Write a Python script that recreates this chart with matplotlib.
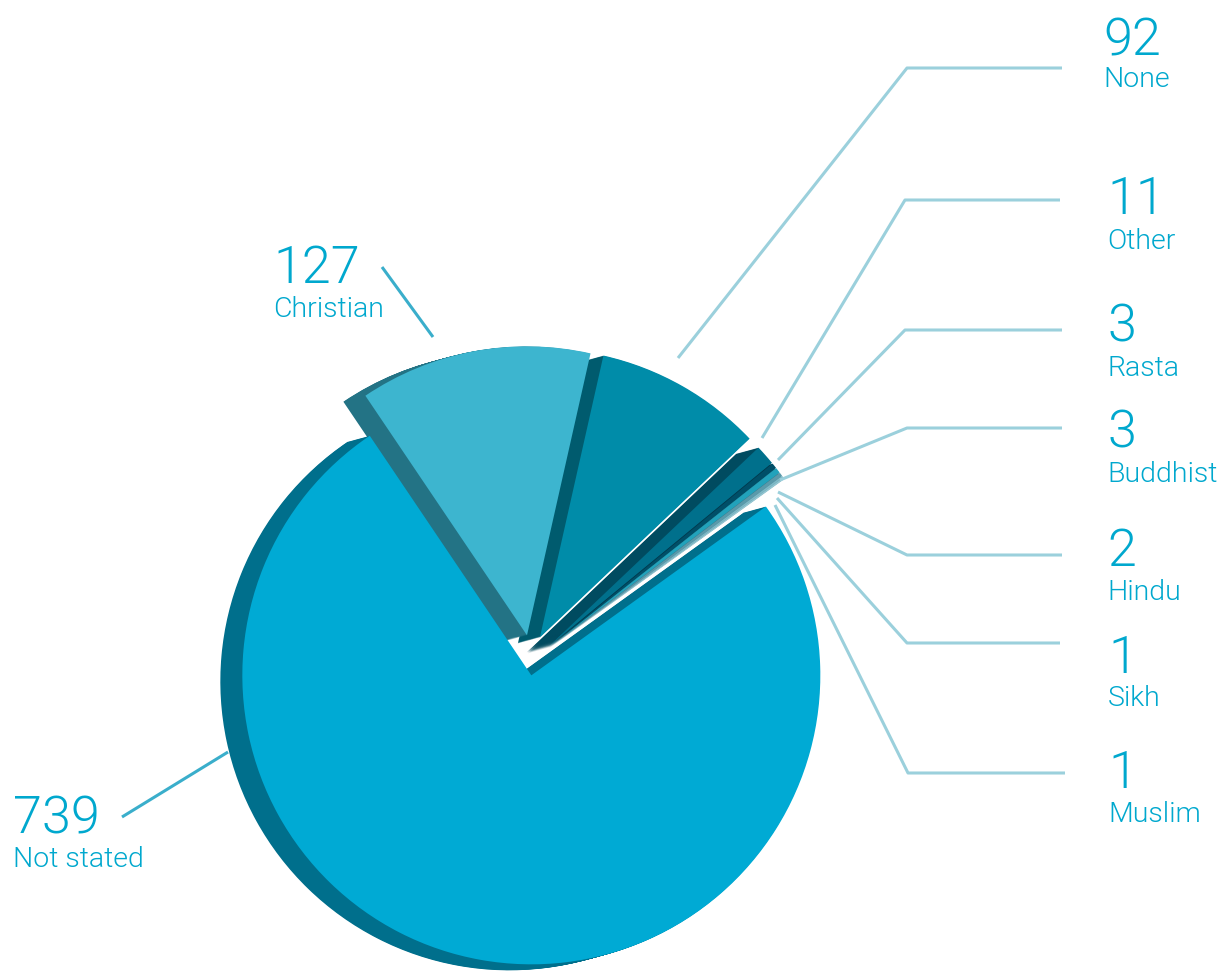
import matplotlib.pyplot as plt

# data
labels = ['Christian', 'None', 'Other', 'Rasta', 'Buddhist', 'Hindu', 'Sikh', 'Muslim', 'Not stated']
values = [127, 92, 11, 3, 3, 2, 1, 1, 739]

face_colors = ['#3db5cf', '#008ca9', '#00708c', '#004f68', '#22a2bb', '#5a9aab', '#7dbac8', '#93c6d2', '#00aad4']
side_colors = ['#237385', '#005b6e', '#004b60', '#003a4e', '#1a7487', '#3e7484', '#5b8f9c', '#6b9ea9', '#006f8c']

W, H = 1221, 973
cx, cy = 530.5, H - 654
R = 289
depth_x, depth_y = -22, -6   # side offset of the "3d" extrusion

# pie explode is an absolute offset here (data units = pixels)
explode = [19, 19, 19, 19, 19, 19, 19, 19, 23.7]
# small extra shifts so the slices sit like in the original
nudge = [(0, 0), (0, 0), (4, -5), (4, -5), (4, -5), (4, -5), (4, -5), (4, -5), (5, 2)]

# label layout (pixel coords, y from top): left x, number baseline, name baseline
text_pos = {
    'None':       (1103, 55, 87),
    'Other':      (1107, 214, 249),
    'Rasta':      (1107, 342, 376),
    'Buddhist':   (1107, 448, 482),
    'Hindu':      (1107, 566, 600),
    'Sikh':       (1108, 673, 706),
    'Muslim':     (1108, 788, 822),
    'Christian':  (273, 283, 317),
    'Not stated': (13, 833, 867),
}
leaders = {
    'None':       [(678, 358), (907, 68), (1062, 68)],
    'Other':      [(762, 438), (905, 200), (1060, 200)],
    'Rasta':      [(778, 460), (905, 330), (1062, 330)],
    'Buddhist':   [(780, 480), (907, 428), (1062, 428)],
    'Hindu':      [(778, 492), (907, 555), (1062, 555)],
    'Sikh':       [(777, 498), (907, 643), (1060, 643)],
    'Muslim':     [(775, 505), (908, 773), (1065, 773)],
    'Christian':  [(433, 337), (382, 267)],
    'Not stated': [(228, 752), (122, 817)],
}

plt.rcParams['font.family'] = ['Roboto', 'DejaVu Sans']

fig = plt.figure(figsize=(W / 100, H / 100), dpi=100)
ax = fig.add_axes([0, 0, 1, 1])


def draw_pie(x0, y0, colors, z):
    wedges, _ = ax.pie(values, colors=colors, explode=explode, radius=R,
                       center=(x0, y0), startangle=124, counterclock=False,
                       wedgeprops=dict(linewidth=0))
    for w, (nx, ny) in zip(wedges, nudge):
        wx, wy = w.center
        w.set_center((wx + nx, wy + ny))
        w.set_zorder(z)


# side walls: many shifted copies stacked below the top faces
steps = 24
for i in range(steps, 0, -1):
    t = i / steps
    draw_pie(cx + depth_x * t, cy + depth_y * t, side_colors, 1)

# top faces
draw_pie(cx, cy, face_colors, 2)

num_color = '#00a8ce'
for lab, v in zip(labels, values):
    pts = leaders[lab]
    xs = [p[0] for p in pts]
    ys = [H - p[1] for p in pts]
    lc = '#3aaecb' if lab in ('Christian', 'Not stated') else '#9bd0dc'
    ax.plot(xs, ys, color=lc, linewidth=2.2, solid_capstyle='butt', zorder=3)
    x, b1, b2 = text_pos[lab]
    ax.text(x, H - b1, str(v), fontsize=37.5, fontweight=300, color=num_color,
            ha='left', va='baseline')
    ax.text(x, H - b2, lab, fontsize=20.5, fontweight=300, color=num_color,
            ha='left', va='baseline')

ax.set_xlim(0, W)
ax.set_ylim(0, H)
ax.set_aspect('auto')
ax.axis('off')

plt.savefig('out.png', dpi=100)
